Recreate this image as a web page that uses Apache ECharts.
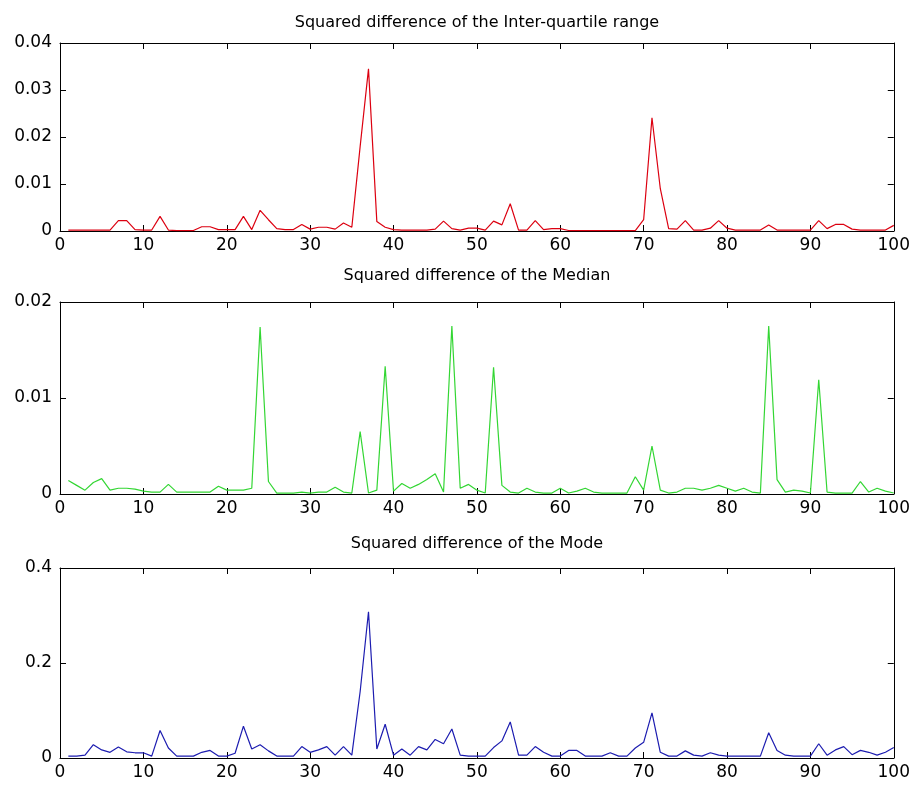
<!DOCTYPE html>
<html>
<head>
<meta charset="utf-8">
<script src="https://cdn.jsdelivr.net/npm/echarts@6/dist/echarts.min.js"></script>
<style>
  html, body { margin: 0; padding: 0; background: #fff; }
  #main { width: 913px; height: 791px; }
</style>
</head>
<body>
<div id="main"></div>
<script>
// x positions 1..100 (sample index)
var sampleIndex = [];
for (var i = 1; i <= 100; i++) sampleIndex.push(i);

// squared difference of the inter-quartile range
var iqrDiff = [
  0.0002, 0.0002, 0.0002, 0.0002, 0.0002, 0.0002, 0.0022, 0.0022, 0.0003, 0.0002,
  0.0002, 0.0031, 0.0002, 0.0001, 0.0001, 0.0001, 0.0009, 0.0009, 0.0003, 0.0003,
  0.0003, 0.0031, 0.0003, 0.0044, 0.0024, 0.0005, 0.0003, 0.0003, 0.0014, 0.0004,
  0.0008, 0.0008, 0.0004, 0.0017, 0.0008, 0.0180, 0.0345, 0.0020, 0.0008, 0.0003,
  0.0002, 0.0002, 0.0002, 0.0002, 0.0004, 0.0021, 0.0005, 0.0002, 0.0006, 0.0006,
  0.0002, 0.0021, 0.0013, 0.0058, 0.0002, 0.0002, 0.0022, 0.0003, 0.0005, 0.0005,
  0.0001, 0.0001, 0.0001, 0.0001, 0.0001, 0.0001, 0.0001, 0.0001, 0.0001, 0.0024,
  0.0241, 0.0090, 0.0005, 0.0004, 0.0022, 0.0002, 0.0002, 0.0006, 0.0022, 0.0006,
  0.0002, 0.0002, 0.0002, 0.0002, 0.0013, 0.0002, 0.0002, 0.0002, 0.0002, 0.0002,
  0.0022, 0.0005, 0.0014, 0.0014, 0.0004, 0.0002, 0.0002, 0.0002, 0.0002, 0.0012
];

// squared difference of the median
var medianDiff = [
  0.0014, 0.0009, 0.0004, 0.0012, 0.0016, 0.0004, 0.0006, 0.0006, 0.0005, 0.0003,
  0.0002, 0.0002, 0.0010, 0.0002, 0.0002, 0.0002, 0.0002, 0.0002, 0.0008, 0.0004,
  0.0004, 0.0004, 0.0006, 0.0174, 0.0013, 0.0001, 0.0001, 0.0001, 0.0002, 0.0001,
  0.0002, 0.0002, 0.0007, 0.0002, 0.0001, 0.0065, 0.0001, 0.0004, 0.0133, 0.0003,
  0.0011, 0.0006, 0.0010, 0.0015, 0.0021, 0.0002, 0.0175, 0.0006, 0.0010, 0.0004,
  0.0001, 0.0132, 0.0009, 0.0002, 0.0001, 0.0006, 0.0002, 0.0001, 0.0001, 0.0006,
  0.0001, 0.0003, 0.0006, 0.0002, 0.0001, 0.0001, 0.0001, 0.0001, 0.0018, 0.0004,
  0.0050, 0.0004, 0.0001, 0.0002, 0.0006, 0.0006, 0.0004, 0.0006, 0.0009, 0.0006,
  0.0003, 0.0006, 0.0002, 0.0001, 0.0175, 0.0015, 0.0002, 0.0004, 0.0003, 0.0001,
  0.0119, 0.0002, 0.0001, 0.0001, 0.0001, 0.0013, 0.0002, 0.0006, 0.0003, 0.0001
];

// squared difference of the mode
var modeDiff = [
  0.004, 0.004, 0.006, 0.028, 0.017, 0.012, 0.023, 0.013, 0.011, 0.011,
  0.004, 0.058, 0.021, 0.004, 0.004, 0.004, 0.012, 0.016, 0.004, 0.004,
  0.010, 0.067, 0.019, 0.028, 0.015, 0.004, 0.004, 0.004, 0.024, 0.012,
  0.017, 0.024, 0.006, 0.024, 0.006, 0.140, 0.308, 0.019, 0.071, 0.006,
  0.019, 0.006, 0.024, 0.017, 0.039, 0.030, 0.061, 0.006, 0.004, 0.004,
  0.004, 0.022, 0.036, 0.076, 0.006, 0.006, 0.024, 0.012, 0.004, 0.004,
  0.016, 0.016, 0.004, 0.004, 0.004, 0.011, 0.004, 0.004, 0.021, 0.033,
  0.095, 0.012, 0.004, 0.004, 0.015, 0.006, 0.004, 0.011, 0.006, 0.004,
  0.004, 0.004, 0.004, 0.004, 0.053, 0.016, 0.006, 0.004, 0.004, 0.004,
  0.030, 0.006, 0.017, 0.024, 0.007, 0.016, 0.012, 0.006, 0.012, 0.022
];

var titles = [
  'Squared difference of the Inter-quartile range',
  'Squared difference of the Median',
  'Squared difference of the Mode'
];
var yMax = [0.04, 0.02, 0.4];
var yStep = [0.01, 0.01, 0.2];
var xTicks = { min: 0, max: 100, step: 10 };

var seriesData = [iqrDiff, medianDiff, modeDiff];
var lineColors = ['#dc0010', '#33d633', '#1c1cb0'];

// subplot boxes (top, height)
var gridTops = [43, 302, 568];
var gridHeights = [188, 192, 190];
var titleGap = [33, 39, 37];
var fontFam = 'DejaVu Sans';

function pairs(vals) {
  return vals.map(function (v, k) { return [sampleIndex[k], v]; });
}

var chart = echarts.init(document.getElementById('main'));

var option = {
  backgroundColor: '#fff',
  animation: false,
  title: [],
  grid: [],
  xAxis: [],
  yAxis: [],
  series: []
};

for (var g = 0; g < 3; g++) {
  option.title.push({
    text: titles[g],
    left: 472,
    top: gridTops[g] - titleGap[g],
    textAlign: 'center',
    textStyle: { fontFamily: fontFam, fontSize: 16, fontWeight: 'normal', color: '#000' }
  });
  option.grid.push({ left: 60, right: 17, top: gridTops[g], height: gridHeights[g] });

  var axLine = { show: true, onZero: false, lineStyle: { color: '#000', width: 1 } };
  var tick = { show: true, inside: true, length: 6, lineStyle: { color: '#000' } };

  // bottom x
  option.xAxis.push({
    gridIndex: g, type: 'value', position: 'bottom',
    min: xTicks.min, max: xTicks.max, interval: xTicks.step,
    axisLine: axLine, axisTick: tick, splitLine: { show: false },
    axisLabel: { fontFamily: fontFam, fontSize: 17, color: '#000', margin: 6 }
  });
  // top x (box edge with ticks)
  option.xAxis.push({
    gridIndex: g, type: 'value', position: 'top',
    min: xTicks.min, max: xTicks.max, interval: xTicks.step,
    axisLine: axLine, axisTick: tick, splitLine: { show: false },
    axisLabel: { show: false }
  });
  // left y
  option.yAxis.push({
    gridIndex: g, type: 'value', position: 'left',
    min: 0, max: yMax[g], interval: yStep[g],
    axisLine: axLine, axisTick: tick, splitLine: { show: false },
    axisLabel: { fontFamily: fontFam, fontSize: 17, color: '#000', margin: 8 }
  });
  // right y
  option.yAxis.push({
    gridIndex: g, type: 'value', position: 'right',
    min: 0, max: yMax[g], interval: yStep[g],
    axisLine: axLine, axisTick: tick, splitLine: { show: false },
    axisLabel: { show: false }
  });

  option.series.push({
    type: 'line',
    xAxisIndex: g * 2,
    yAxisIndex: g * 2,
    data: pairs(seriesData[g]),
    showSymbol: false,
    lineStyle: { color: lineColors[g], width: 1.2 },
    clip: true
  });
}

chart.setOption(option);
</script>
</body>
</html>
